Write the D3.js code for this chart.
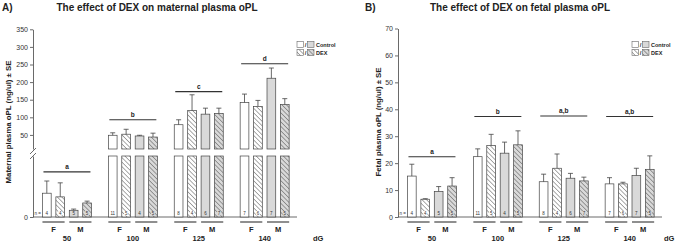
<!DOCTYPE html>
<meta charset="utf-8">
<script src="https://d3js.org/d3.v7.min.js"></script>
<style>
  body { margin: 0; background: #fff; }
  text { font-family: "Liberation Sans", Arial, sans-serif; }
</style>
<div id="chart"></div>
<script>
// gestational age groups and the four bars in each group
var ages = ["50", "100", "125", "140"];
var barKeys = ["F-Control", "F-DEX", "M-Control", "M-DEX"];
var sexes = ["F", "M"];

// maternal plasma oPL (ng/ul), mean and SE per age group
var maternalMean = [[3.9, 3.3, 1.1, 2.3], [49, 52, 47, 44], [79, 119, 109, 111], [142, 131, 211, 136]];
var maternalSE = [[2.0, 2.3, 0.2, 0.3], [7, 14, 2, 11], [14, 45, 17, 15], [24, 17, 29, 17]];
var maternalLetters = ["a", "b", "c", "d"];
var maternalLetterLevel = [7.4, 93, 173, 252];
var maternalTicks = [50, 100, 150, 200, 250, 300, 350];

// fetal plasma oPL (ng/ul)
var fetalMean = [[15.2, 6.6, 9.5, 11.5], [22.4, 26.5, 23.7, 26.8], [13.1, 18.1, 14.4, 13.4], [12.3, 12.3, 15.4, 17.7]];
var fetalSE = [[4.4, 0.2, 1.8, 3.1], [2.9, 4.2, 4.1, 5.2], [2.8, 5.3, 1.8, 1.4], [2.3, 0.6, 2.7, 5.0]];
var fetalLetters = ["a", "b", "a,b", "a,b"];
var fetalLetterLevel = [22.4, 37.3, 37.5, 37.3];
var fetalTicks = [0, 10, 20, 30, 40, 50, 60, 70];

// animals per bar
var nCounts = [[4, 4, 5, 5], [11, 5, 4, 5], [8, 4, 6, 7], [7, 6, 7, 5]];

var fillFor = {
  "F-Control": "#fff", "F-DEX": "url(#hatchW)",
  "M-Control": "#d9d9d9", "M-DEX": "url(#hatchG)"
};

var svg = d3.select("#chart").append("svg")
  .attr("width", 680).attr("height", 244);

// hatch patterns (lines running top-left to bottom-right)
var defs = svg.append("defs");
[["hatchW", "#fff"], ["hatchG", "#d9d9d9"]].forEach(function(p) {
  var pat = defs.append("pattern").attr("id", p[0])
    .attr("patternUnits", "userSpaceOnUse").attr("width", 3.2).attr("height", 3.2)
    .attr("patternTransform", "rotate(-45)");
  pat.append("rect").attr("width", 3.2).attr("height", 3.2).attr("fill", p[1]);
  pat.append("line").attr("x1", 0).attr("y1", 0).attr("x2", 0).attr("y2", 3.2)
    .attr("stroke", "#444").attr("stroke-width", 0.9);
});

function drawPanel(cfg) {
  var g = svg.append("g");
  var base = 217;

  // title
  g.append("text").attr("x", cfg.tagX).attr("y", 11).text(cfg.tag)
    .attr("font-size", 10).attr("font-weight", "bold").attr("fill", "#222");
  g.append("text").attr("x", cfg.titleX).attr("y", 11).text(cfg.title)
    .attr("font-size", 10).attr("font-weight", "bold").attr("fill", "#222")
    .attr("text-anchor", "middle");

  // y label
  g.append("text")
    .attr("transform", "translate(" + cfg.labelX + ",122)rotate(-90)")
    .attr("text-anchor", "middle").attr("font-size", 7.8).attr("font-weight", "bold")
    .attr("fill", "#222").text(cfg.yLabel);

  // x scales
  var x = d3.scaleBand().domain(ages).range([cfg.axisX + 1, cfg.axisX + 264.6]);
  var xi = d3.scaleBand().domain(barKeys).range([-24.5, 24.5]).paddingInner(0.35);

  // y axis segments
  cfg.segs.forEach(function(s) {
    var ax = g.append("g").attr("transform", "translate(" + cfg.axisX + ",0)")
      .call(d3.axisLeft(s.y).tickValues(s.ticks).tickSize(3).tickSizeOuter(0));
    ax.select(".domain").attr("stroke", "#444").attr("stroke-width", 0.8);
    ax.selectAll(".tick line").attr("stroke", "#444").attr("stroke-width", 0.8);
    ax.selectAll(".tick text").attr("font-size", 7).attr("fill", "#333")
      .attr("font-family", "Liberation Sans, Arial, sans-serif").attr("x", -5);
  });
  if (cfg.segs.length > 1) {
    [151, 156].forEach(function(yy) {
      g.append("line").attr("x1", cfg.axisX - 3).attr("y1", yy + 3)
        .attr("x2", cfg.axisX + 3).attr("y2", yy - 3)
        .attr("stroke", "#444").attr("stroke-width", 0.8);
    });
  }

  // x baseline
  g.append("line").attr("x1", cfg.axisX).attr("x2", cfg.axisX + 264)
    .attr("y1", base).attr("y2", base).attr("stroke", "#444").attr("stroke-width", 0.8);

  function segFor(v) {
    for (var i = 0; i < cfg.segs.length; i++) {
      if (v <= cfg.segs[i].hi) return cfg.segs[i];
    }
    return cfg.segs[cfg.segs.length - 1];
  }

  ages.forEach(function(age, gi) {
    var cx = x(age) + x.bandwidth() / 2;

    barKeys.forEach(function(k, bi) {
      var v = cfg.mean[gi][bi], se = cfg.se[gi][bi];
      var bx = cx + xi(k), bw = xi.bandwidth();

      cfg.segs.forEach(function(s) {
        if (v > s.lo) {
          var top = s.y(Math.min(v, s.hi));
          g.append("rect").attr("x", bx).attr("y", top)
            .attr("width", bw).attr("height", s.y(s.lo) - top)
            .attr("fill", fillFor[k]).attr("stroke", "#444").attr("stroke-width", 0.7);
        }
      });

      // error bar (upper only)
      var es = segFor(v + se);
      var y0 = v >= es.lo ? es.y(v) : es.y(es.lo);
      var y1 = es.y(v + se);
      var mx = bx + bw / 2;
      g.append("line").attr("x1", mx).attr("x2", mx).attr("y1", y0).attr("y2", y1)
        .attr("stroke", "#444").attr("stroke-width", 0.8);
      g.append("line").attr("x1", mx - 2.5).attr("x2", mx + 2.5).attr("y1", y1).attr("y2", y1)
        .attr("stroke", "#444").attr("stroke-width", 0.8);

      // n label
      if (k.indexOf("DEX") > 0) {
        g.append("rect").attr("x", mx - 2).attr("y", base - 6).attr("width", 4).attr("height", 4.5)
          .attr("fill", k === "M-DEX" ? "#d9d9d9" : "#fff");
      }
      g.append("text").attr("x", mx).attr("y", base - 2.3).attr("text-anchor", "middle")
        .attr("font-size", 4.5).attr("fill", "#333").text(nCounts[gi][bi]);
      if (gi === 0 && bi === 0) {
        g.append("text").attr("x", bx - 1.5).attr("y", base - 2.3).attr("text-anchor", "end")
          .attr("font-size", 4.5).attr("fill", "#333").text("n =");
      }
    });

    // significance line + letter
    var ls = segFor(cfg.letterLevel[gi]);
    var ly = ls.y(cfg.letterLevel[gi]);
    g.append("line").attr("x1", cx - 23.5).attr("x2", cx + 23.5).attr("y1", ly).attr("y2", ly)
      .attr("stroke", "#333").attr("stroke-width", 1.1);
    g.append("text").attr("x", cx).attr("y", ly - 3).attr("text-anchor", "middle")
      .attr("font-size", 6.5).attr("font-weight", "bold").attr("fill", "#222")
      .text(cfg.letters[gi]);

    // sex labels
    sexes.forEach(function(sx, si) {
      var x0 = cx + xi(barKeys[si * 2]);
      var x1 = cx + xi(barKeys[si * 2 + 1]) + xi.bandwidth();
      g.append("line").attr("x1", x0).attr("x2", x1).attr("y1", 222).attr("y2", 222)
        .attr("stroke", "#333").attr("stroke-width", 1.1);
      g.append("text").attr("x", (x0 + x1) / 2).attr("y", 232).attr("text-anchor", "middle")
        .attr("font-size", 7.5).attr("font-weight", "bold").attr("fill", "#222").text(sx);
    });
    g.append("text").attr("x", cx).attr("y", 241).attr("text-anchor", "middle")
      .attr("font-size", 7.5).attr("font-weight", "bold").attr("fill", "#222").text(age);
  });

  g.append("text").attr("x", cfg.dgX).attr("y", 241)
    .attr("font-size", 7.5).attr("font-weight", "bold").attr("fill", "#222").text("dG");

  // legend
  var lx = cfg.legendX;
  [["#fff", "#d9d9d9", "Control", 41.5], ["url(#hatchW)", "url(#hatchG)", "DEX", 49.5]].forEach(function(r) {
    g.append("rect").attr("x", lx).attr("y", r[3]).attr("width", 6.5).attr("height", 6)
      .attr("fill", r[0]).attr("stroke", "#666").attr("stroke-width", 0.6);
    g.append("text").attr("x", lx + 8.6).attr("y", r[3] + 5.5).attr("text-anchor", "middle")
      .attr("font-size", 6).attr("font-weight", "bold").attr("fill", "#333").text("/");
    g.append("rect").attr("x", lx + 10.5).attr("y", r[3]).attr("width", 6.5).attr("height", 6)
      .attr("fill", r[1]).attr("stroke", "#666").attr("stroke-width", 0.6);
    g.append("text").attr("x", lx + 19).attr("y", r[3] + 5.3)
      .attr("font-size", 5.5).attr("font-weight", "bold").attr("fill", "#222").text(r[2]);
  });
}

// panel A: broken y axis
var mLow = d3.scaleLinear().domain([0, 10]).range([217, 156]);
var mHigh = d3.scaleLinear().domain([10, 350]).range([149, 29.3]);
drawPanel({
  tag: "A)", tagX: 2, title: "The effect of DEX on maternal plasma oPL", titleX: 157,
  yLabel: "Maternal plasma oPL (ng/ul) \u00b1 SE", labelX: 11, axisX: 33, legendX: 297, dgX: 313,
  mean: maternalMean, se: maternalSE, letters: maternalLetters, letterLevel: maternalLetterLevel,
  segs: [
    { y: mLow, lo: 0, hi: 10, ticks: [0] },
    { y: mHigh, lo: 10, hi: 350, ticks: maternalTicks }
  ]
});

// panel B
var fY = d3.scaleLinear().domain([0, 70]).range([217, 28.5]);
drawPanel({
  tag: "B)", tagX: 365, title: "The effect of DEX on fetal plasma oPL", titleX: 520,
  yLabel: "Fetal plasma oPL (ng/ul) \u00b1 SE", labelX: 381, axisX: 398, legendX: 632, dgX: 664,
  mean: fetalMean, se: fetalSE, letters: fetalLetters, letterLevel: fetalLetterLevel,
  segs: [{ y: fY, lo: 0, hi: 70, ticks: fetalTicks }]
});
</script>
